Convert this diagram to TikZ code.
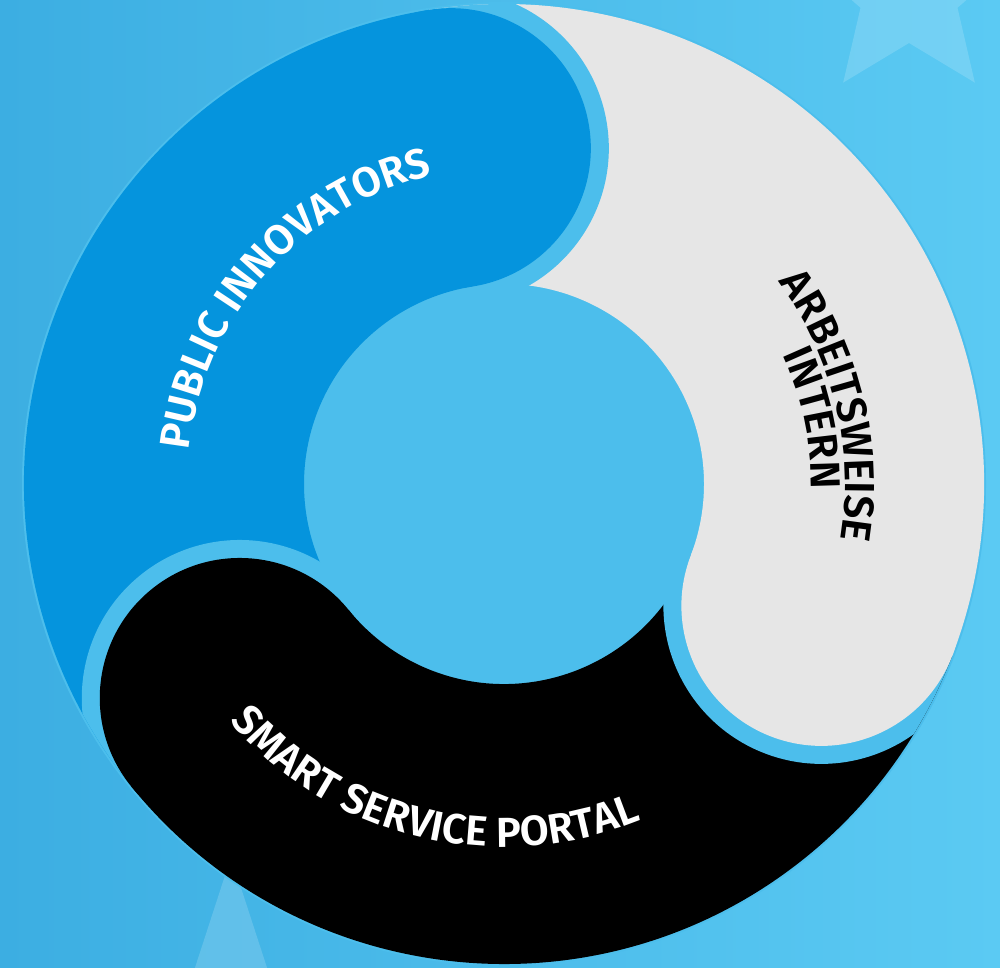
\documentclass[tikz,border=0pt]{standalone}
\usepackage{fontspec}
\setmainfont{Fira Sans}
\newfontfamily\labfam{Fira Sans SemiBold}
\usetikzlibrary{decorations.text,calc}
\definecolor{bgL}{HTML}{3CAEE2}
\definecolor{bgR}{HTML}{5BCAF3}
\definecolor{gapc}{HTML}{4CBEEC}
\definecolor{pblue}{HTML}{0594DD}
\definecolor{pgray}{HTML}{E6E6E6}
\definecolor{pblack}{HTML}{000000}
\newcommand\labfmt{\labfam\fontsize{42}{42}\selectfont}
\tikzset{
  starfill/.style={fill=white, fill opacity=0.16},
  gapfill/.style={fill=gapc},
  labtext/.style={decorate, decoration={text along path, text align=center, text={#1}}}
}
\begin{document}
\begin{tikzpicture}[x=1pt,y=1pt]
\useasboundingbox (0,0) rectangle (1000,-967);
\shade[left color=bgL, right color=bgR] (0,0) rectangle (1000,-967);
% stars
\coordinate (st1) at (909,8);
\coordinate (st2) at (231,-1027);
\fill[starfill] ($(st1)+(90:112pt)$) \foreach \k in {1,...,9} { -- ($(st1)+({90+36*\k}:{ifthenelse(mod(\k,2)==0,112,51)*1pt})$) } -- cycle;
\fill[starfill] ($(st2)+(90:170pt)$) \foreach \k in {1,...,9} { -- ($(st2)+({90+36*\k}:{ifthenelse(mod(\k,2)==0,170,65)*1pt})$) } -- cycle;
% ring
\coordinate (C) at (504,-484);
\begin{scope}[shift={(C)}]
  \fill[gapfill] (0,0) circle (482pt);
  \foreach \a/\c in {99/pblue, -21/pgray, 219/pblack} {
    \begin{scope}[rotate=\a]
      \fill[\c] (480pt,0pt) arc (0:120:480pt) -- (120:200pt) arc (120:0:200pt) -- cycle;
    \end{scope}
  }
  \foreach \a/\c in {99/pblue, -21/pgray, 219/pblack} {
    \begin{scope}[rotate=\a]
      \begin{scope}
        \clip (0,0) -- (-60:480pt) arc (-60:0:480pt) -- cycle;
        \fill[gapfill] (340pt,0pt) circle (158pt);
      \end{scope}
      \fill[\c] (340pt,0pt) circle (140pt);
    \end{scope}
  }
  % labels
  \path[labtext={|\labfmt\color{white}|PUBLIC INNOVATORS}] (173:317pt) arc (173:104:317pt);
  \path[labtext={|\labfmt\color{white}|SMART SERVICE PORTAL}] (216:363pt) arc (216:297:363pt);
  \path[labtext={|\labfmt\color{black}|ARBEITSWEISE}] (43:341pt) arc (43:-16:341pt);
  \path[labtext={|\labfmt\color{black}|INTERN}] (33:307pt) arc (33:-9:307pt);
\end{scope}
\end{tikzpicture}
\end{document}
